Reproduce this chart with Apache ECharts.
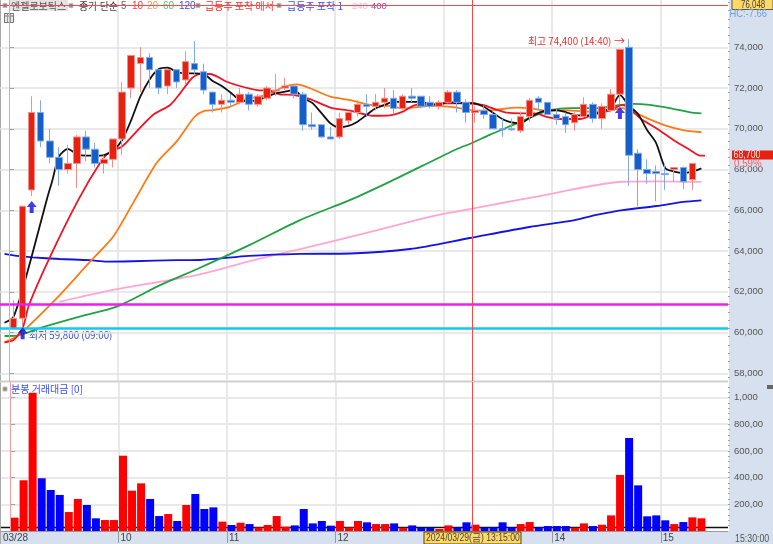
<!DOCTYPE html>
<html><head><meta charset="utf-8">
<style>html,body{margin:0;padding:0;background:#fff}#c{width:773px;height:544px}</style>
<script src="https://cdn.jsdelivr.net/npm/echarts@6/dist/echarts.min.js"></script>
</head><body><div id="c"></div>
<script>
const opens=[60200,60700,67000,70800,69400,68600,68000,68300,69600,69000,68300,68500,69500,72000,73200,73500,72900,72100,72900,72400,73200,72800,71800,71200,71400,71300,71700,71200,71500,71850,72000,72100,71700,70200,70200,69600,69600,70400,70800,71200,71100,71300,71500,71000,71600,71600,71300,71100,71300,71800,71300,70800,70900,70700,70000,70000,69900,70600,71500,71300,70700,70600,70300,70600,71200,70500,70900,71700,74000,68800,68000,67900,67800,68000,68100,67500];
const closes=[60700,66200,70800,69400,68600,68000,68300,69600,69000,68300,68500,69500,71800,73600,73500,72900,72000,72900,72300,73300,72900,71900,71200,71400,71300,71700,71200,71600,72000,71900,72100,71700,70200,70100,69600,69500,70500,70800,71200,71100,71300,71500,71000,71600,71500,71100,71100,71300,71800,71300,70800,70900,70700,70000,69950,69950,70600,71400,71300,70700,70500,70200,70700,71200,70500,71100,71700,73900,68700,68000,67800,67800,67750,68100,67400,68300];
const lows=[60200,59800,66700,69100,68300,67200,67800,67100,68400,68100,67800,68100,68700,71500,71800,72000,71700,71700,72000,72200,72700,71700,70800,70800,71100,71200,70900,71100,71400,71600,71900,71500,69900,69950,69550,69500,69500,70200,70600,70600,70900,71000,70700,70950,71300,71000,71000,70950,71250,70800,70300,70300,70500,70000,69600,69900,69800,70350,70900,70700,70200,69800,69900,70600,70300,70000,70800,71200,67200,66200,67300,66450,67000,67400,67050,67000];
const highs=[61600,66200,71600,71400,70000,69100,69200,69700,69900,69300,68700,69500,72300,73600,74000,73700,72900,72900,72900,73800,74300,73200,71800,71700,71700,72000,71800,71700,72100,72700,72500,72200,71800,70800,70200,70100,70800,70800,71400,71700,71700,72000,71900,71700,72000,71600,71600,71400,71900,71900,71450,71100,71150,70800,70500,70500,70850,71500,71600,71300,71000,70800,70850,71550,71300,71250,71950,73900,74400,69000,68500,68200,68300,68100,68150,68300];
const turnover=[100,380,1036,395,307,270,142,240,195,95,82,82,564,302,357,240,112,127,75,195,277,165,177,70,45,62,52,27,45,112,32,42,165,57,75,40,75,27,75,65,52,52,57,25,42,25,25,15,42,27,65,47,25,27,65,27,52,67,27,37,37,37,25,57,37,47,117,420,697,342,110,117,80,52,67,102,95];
const ma5=[[-1,60480],[0,60780],[1.5,62920],[3.66,66510],[4.3,67490],[5,68630],[6,69010],[7,68760],[8,68680],[9,68680],[10,68710],[11,68930],[12,69450],[13,70430],[14,71580],[15,72400],[16,72920],[17,73000],[18,72800],[19,72720],[20,72720],[21,72690],[22,72350],[23,72100],[24,71770],[25,71410],[26,71360],[27,71410],[28,71580],[29,71740],[30,71820],[31,71900],[32,71510],[33,71270],[34,70780],[35,70270],[36,70070],[37,70140],[38,70350],[39,70680],[40,71010],[41,71170],[42,71330],[43,71320],[44,71320],[45,71320],[46,71220],[47,71170],[48,71320],[49,71270],[50,71270],[51,71250],[52,71070],[53,70780],[54,70480],[55,70310],[56,70270],[57,70530],[58,70780],[59,70900],[60,70920],[61,70820],[62,70680],[63,70650],[64,70680],[65,70870],[66,71020],[67,71660],[68,71120],[69,70730],[70,69940],[71,69300],[72,68080],[73,67900],[74,67830],[75,67900],[76,68060]];
const ma10=[[-1,59520],[0,59630],[1,60220],[1.7,61350],[3.95,63640],[7.15,66510],[9.55,68320],[10.65,68880],[11.95,69120],[13.4,69780],[15.4,70680],[17.3,71170],[18.4,71740],[19.7,72480],[20.6,72690],[21.7,72690],[23.55,72310],[25,72100],[26.9,71900],[28.3,71870],[29.4,71690],[30.9,71660],[32.75,71460],[35,71040],[37.2,70890],[39.7,70640],[41.6,70660],[43,70840],[44.5,71170],[46,71170],[47.45,71250],[49.65,71250],[51.85,71170],[52.9,71010],[54.5,70790],[56.15,70760],[57.6,70760],[58.9,70590],[60.4,70480],[62.6,70480],[64,70680],[65.9,70900],[67.3,71170],[68.4,70840],[69.5,70430],[71.05,70020],[72.9,69450],[74.75,68960],[75.85,68680],[76.4,68680]];
const ma20=[[-1,59520],[0.35,59800],[1.6,60290],[5.1,61840],[8.45,63480],[11,64700],[13.4,66510],[15.8,68320],[18,69370],[20,70590],[21,70870],[22.05,70920],[23.9,71080],[25.75,71460],[28,71660],[29.75,72040],[31.3,72180],[32.75,71990],[35,71580],[37.2,71410],[39.4,71170],[41.6,71120],[43,71000],[46.35,71120],[49,71040],[50.75,70890],[53,70920],[55.6,71040],[57,71010],[59.2,70870],[60.65,70920],[63.7,70840],[66.2,70920],[67.3,71010],[68.4,70840],[70,70520],[72.15,70140],[73.95,69940],[76,69830]];
const ma60=[[-1,59830],[0.35,59850],[2.9,60220],[7.3,60780],[11.4,61270],[16.2,62330],[20.6,63180],[26.1,64300],[31.65,65520],[37.2,66510],[41.6,67410],[45.2,68190],[49,69010],[50.6,69290],[52.6,69700],[55.2,70190],[57.8,70680],[59.3,70920],[61.5,71010],[64.4,71010],[66.2,71120],[68.4,71220],[70.3,71170],[72.5,71010],[74.75,70810],[76,70760]];
const ma120=[[-1,63860],[0.35,63760],[2.1,63690],[5.1,63610],[8.45,63550],[10.3,63480],[13.2,63500],[18,63550],[20.6,63560],[26,63760],[31.65,63860],[37.2,63880],[43.8,64100],[50.4,64640],[57,65180],[62,65520],[64.4,65770],[67.3,66010],[71.05,66210],[74,66410],[76,66490]];
const ma240=[[5.05,61510],[11,62090],[20.2,62820],[26.1,63510],[31.65,64100],[37.2,64690],[44.5,65520],[47.5,65820],[50.4,66060],[54.1,66370],[57.8,66670],[61.5,67000],[65.1,67290],[67.3,67400],[71.05,67420],[76,67390]];
const arrowMarks=[[1,59970],[2,66160],[67,70780]];
const levelMagenta=61386, levelCyan=60209, crosshairPrice=76048;
const turnoverBaseline=26;
const priceTicks=[58000,60000,62000,64000,66000,68000,70000,72000,74000];
const priceTickLabels=['58,000','60,000','62,000','64,000','66,000','68,000','70,000','72,000','74,000'];
const turnoverTicks=[200,400,600,800,1000];
const turnoverTickLabels=['200,00','400,00','600,00','800,00','1,000'];
const sessionTicks=[-1,12,24,36,48,60,72];
const sessionLabels=['03/28','10','11','12','13','14','15'];
const gridTicks=[12,24,36,48,60,72];
const crosshairIndex=51.19;

const RED='#E8200F',BLUE='#1560C8',KR='"Noto Sans CJK KR","Liberation Sans",sans-serif',NUM='"Liberation Sans",sans-serif';
const shift=a=>a.map(p=>[p[0]+0.5,p[1]]);
const candleData=opens.map((o,i)=>[i+0.5,o,closes[i],lows[i],highs[i]]);
const barData=turnover.map((v,i)=>{
  const up=i>=opens.length||closes[i]>=opens[i];
  return {value:[i+0.5,v],itemStyle:{color:up?'#FF0000':'#0000FF'}};
});
const priceMinorTicks=Array.from({length:47},(_,k)=>57800+k*400);
const turnoverMinorTicks=Array.from({length:27},(_,k)=>40+k*40);
const XMIN=-1,XMAX=79.44;
const lookup=(ticks,labels)=>v=>{const k=ticks.indexOf(Math.round(v));return k<0?'':labels[k];};
function maLine(name,data,color,width,smooth){return {name,type:'line',data:shift(data),showSymbol:false,symbol:'none',silent:true,xAxisIndex:0,yAxisIndex:0,z:2,smooth:smooth||0,lineStyle:{color,width:width||1.8},itemStyle:{color},animation:false};}
function txt(x,y,text,fill,size,font,z,sx){const o={type:'text',x,y,z:z||1,silent:true,style:{text,fill,font:(size||10)+'px '+(font||KR),verticalAlign:'middle',align:'left'}};if(sx){o.scaleX=sx;}return o;}
function sq(x,y){return {type:'rect',z:1,silent:true,shape:{x:x-2,y:y-2,width:4,height:4},style:{fill:'#888',stroke:'#bbb',lineWidth:1}};}
function bg(x,y,w,h,fill,stroke,z){return {type:'rect',z:z===undefined?-1:z,silent:true,shape:{x,y,width:w,height:h},style:{fill,stroke:stroke||null,lineWidth:1}};}
const valueAxisBase={type:'value',position:'right',z:1,
  axisLine:{show:true,lineStyle:{color:'#9AA3AE',width:1}},
  minorTick:{show:false},
  splitLine:{show:true,lineStyle:{color:'#E2E2E2',width:1.5}}};
const minorAxis=(gridIndex,min,max,ticks)=>({type:'value',position:'right',gridIndex,min,max,z:1,axisLine:{show:false},splitLine:{show:false},minorTick:{show:false},
  axisLabel:{show:false,customValues:ticks},axisTick:{show:true,customValues:ticks,length:2,inside:false,lineStyle:{color:'#9AA3AE'}}});

const option={
  animation:false,backgroundColor:'#fff',
  grid:[{left:0,top:0,width:728,height:381,containLabel:false},{left:0,top:382,width:728,height:149,containLabel:false}],
  xAxis:[
    {type:'value',gridIndex:0,min:XMIN,max:XMAX,axisLabel:{show:false,customValues:gridTicks},axisTick:{show:false,customValues:gridTicks},axisLine:{show:false},splitLine:{show:true,lineStyle:{color:'#E2E2E2',width:1.5}}},
    {type:'value',gridIndex:1,min:XMIN,max:XMAX,z:1,
     axisLine:{show:true,lineStyle:{color:'#999',width:1}},axisTick:{show:true,customValues:gridTicks,length:12,inside:false,lineStyle:{color:'#999'}},
     splitLine:{show:true,lineStyle:{color:'#E2E2E2',width:1.5}},
     axisLabel:{show:true,customValues:sessionTicks,align:'left',margin:2,showMinLabel:true,showMaxLabel:true,color:'#444',fontFamily:NUM,fontSize:10,padding:[0,0,0,2],
       formatter:lookup(sessionTicks,sessionLabels)}}
  ],
  yAxis:[
    Object.assign({},valueAxisBase,{gridIndex:0,min:57622,max:76321,
     axisTick:{show:true,customValues:priceTicks,length:5,inside:false,lineStyle:{color:'#9AA3AE'}},
     axisLabel:{show:true,customValues:priceTicks,margin:6,color:'#555',fontFamily:NUM,fontSize:9.5,showMinLabel:true,showMaxLabel:true,formatter:lookup(priceTicks,priceTickLabels)}}),
    Object.assign({},valueAxisBase,{gridIndex:1,min:0,max:1116,
     axisTick:{show:true,customValues:turnoverTicks,length:5,inside:false,lineStyle:{color:'#9AA3AE'}},
     axisLabel:{show:true,customValues:turnoverTicks,margin:6,color:'#555',fontFamily:NUM,fontSize:9.5,showMinLabel:true,showMaxLabel:true,formatter:lookup(turnoverTicks,turnoverTickLabels)}}),
    minorAxis(0,57622,76321,priceMinorTicks),
    minorAxis(1,0,1116,turnoverMinorTicks)
  ],
  series:[
    maLine('240',ma240,'#FFA6D2',1.8,0.25),
    maLine('120',ma120,'#1414E0',1.8,0.25),
    maLine('60',ma60,'#22A045',1.8,0.25),
    maLine('20',ma20,'#FF7A14',1.8,0.25),
    maLine('10',ma10,'#F01425',1.8,0.25),
    maLine('5',ma5,'#111111',1.8,0.25),
    {name:'candles',type:'candlestick',xAxisIndex:0,yAxisIndex:0,data:candleData,encode:{x:0,y:[1,2,3,4]},z:3,barWidth:7,silent:true,
     itemStyle:{color:RED,color0:BLUE,borderColor:'#F0908A',borderColor0:'#82AAE8',borderWidth:1}},
    {name:'arrows',type:'scatter',xAxisIndex:0,yAxisIndex:0,data:shift(arrowMarks),z:6,silent:true,
     symbol:'path://M5 0 L10 6 L7 6 L7 12 L3 12 L3 6 L0 6 Z',symbolSize:[10,12],itemStyle:{color:'#1010E0'}},
    {name:'levels',type:'line',xAxisIndex:0,yAxisIndex:0,data:[],silent:true,z:5,
     markLine:{silent:true,symbol:'none',animation:false,label:{show:false},
       data:[
        {yAxis:levelMagenta,lineStyle:{color:'#F01CF0',width:2.5,type:'solid'}},
        {yAxis:levelCyan,lineStyle:{color:'#10C8F0',width:2.5,type:'solid'}},
        {yAxis:crosshairPrice,lineStyle:{color:'#F44A4A',width:1,type:'solid'}},
        {xAxis:0,lineStyle:{color:'#F0A0A0',width:1,type:'solid'}},
        {xAxis:crosshairIndex,lineStyle:{color:'#F44A4A',width:1,type:'solid'}}
       ]}},
    {name:'baseline',type:'line',xAxisIndex:1,yAxisIndex:1,data:[[XMIN,turnoverBaseline],[XMAX,turnoverBaseline]],showSymbol:false,symbol:'none',silent:true,z:1,lineStyle:{color:'#111',width:1.5},
     markLine:{silent:true,symbol:'none',animation:false,label:{show:false},
       data:[{xAxis:0,lineStyle:{color:'#F0A0A0',width:1,type:'solid'}},{xAxis:crosshairIndex,lineStyle:{color:'#F44A4A',width:1,type:'solid'}}]}},
    {name:'turnover',type:'bar',xAxisIndex:1,yAxisIndex:1,data:barData,barWidth:8,z:2,silent:true}
  ],
  graphic:{elements:[
    bg(729,0,44,544,'#D6E0EE'),
    bg(0,532,729,12,'#D6E0EE'),
    bg(0,0,1,544,'#AAAAAA',null,0),
    bg(0,380.5,728,2,'#CFCFCF',null,0),
    bg(9,0,59,11,'#E4E4E4',null,0),
    sq(5,5.5),
    txt(11,6,'엔젤로보틱스','#555',10),
    sq(71,5.5),
    txt(79,6,'종가 단순','#444',10),
    txt(121,6,'5','#666',10,NUM),
    txt(132,6,'10','#F04040',10,NUM),
    txt(147,6,'20','#FF9A50',10,NUM),
    txt(163,6,'60','#50C070',10,NUM),
    txt(179,6,'120','#3A50F0',10,NUM),
    sq(198,5.5),
    txt(205,6,'급등주 포착 매서','#F03030',10),
    sq(279,5.5),
    txt(287,6,'급등주 포착 1','#3A50F0',10),
    txt(352,6,'240','#F8B0D8',9.5,NUM),
    txt(371,6,'400','#A040A0',9.5,NUM),
    {type:'rect',z:4,silent:true,shape:{x:4.5,y:13.5,width:9,height:9},style:{fill:'#E8E8E8',stroke:'#777',lineWidth:1}},
    {type:'line',z:4,silent:true,shape:{x1:5,y1:16,x2:13,y2:16},style:{stroke:'#777'}},
    {type:'line',z:4,silent:true,shape:{x1:7.5,y1:14,x2:7.5,y2:22},style:{stroke:'#999'}},
    {type:'line',z:4,silent:true,shape:{x1:10.5,y1:14,x2:10.5,y2:22},style:{stroke:'#999'}},
    txt(528,41,'최고 74,400 (14:40)','#E83030',9.8),
    txt(614,41,'→','#E83030',11),
    txt(29,335,'최저 59,800 (09:00)','#3A50C8',9.8),
    sq(5,389),
    txt(11,389.5,'분봉 거래대금 [0]','#3A50E8',10),
    bg(767,385,6,4,'#666',null,5),
    bg(732,-1,41,10.5,'#FFD966','#555',5),
    txt(741,5,'76,048','#444',11,NUM,6,0.72),
    txt(729.5,14,'HC:-7.66','#6FA0E0',11,NUM,6,0.85),
    bg(732,150.5,41,9,RED,null,5),
    txt(733.5,155,'68,700','#FFE8E8',11,NUM,6,0.8),
    bg(733,160,34,6.5,'#D6E0EE',null,5),
    txt(734,164,'0.59%','#F06060',11.5,NUM,6,0.85),
    bg(424,532,97,12,'#FFD966','#554400',5),
    txt(426,538.5,'2024/03/29(금) 13:15:00','#444',10.5,NUM,6,0.82),
    txt(735,538.5,'15:30:00','#555',11,NUM,6,0.8)
  ]}
};
const chart=echarts.init(document.getElementById('c'),null,{renderer:'canvas',width:773,height:544});
chart.setOption(option);
</script></body></html>
